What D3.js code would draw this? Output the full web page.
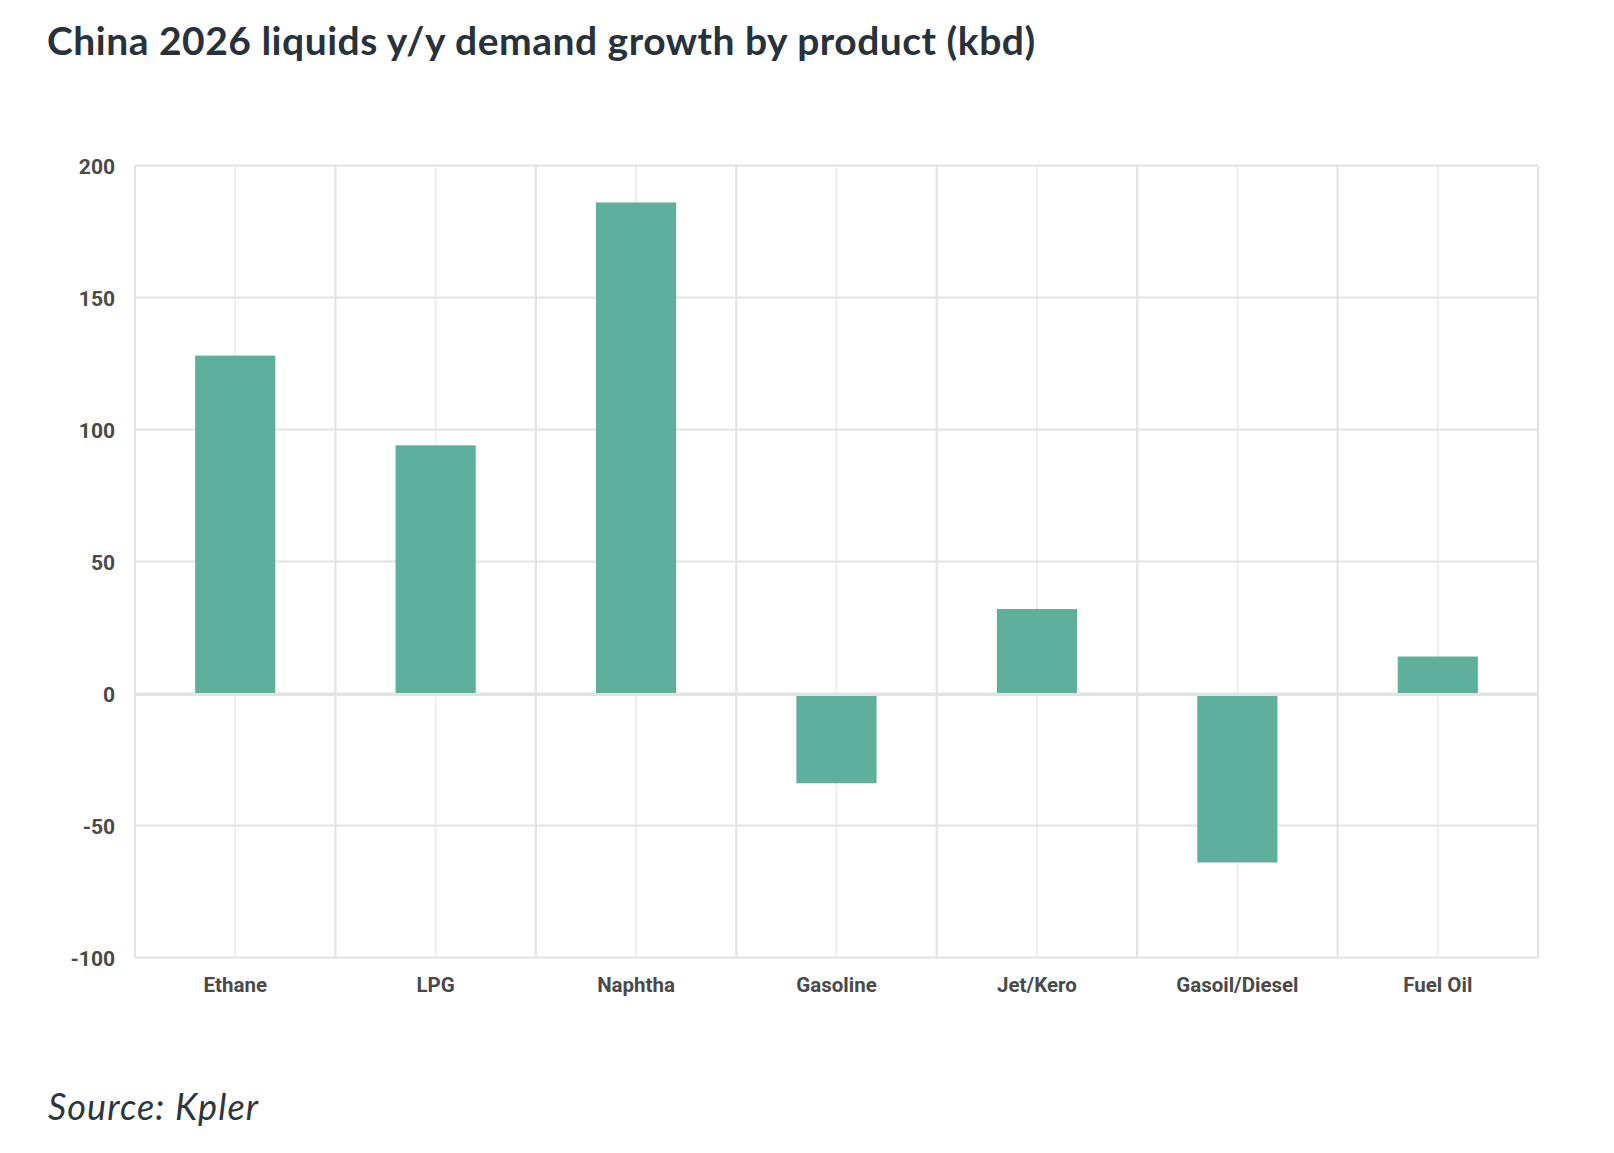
<!DOCTYPE html>
<html>
<head>
<meta charset="utf-8">
<script src="https://cdn.jsdelivr.net/npm/d3@7"></script>
<style>
  html, body { margin: 0; padding: 0; background: #ffffff; }
  svg { display: block; }
</style>
</head>
<body>
<script>
const categories = ["Ethane", "LPG", "Naphtha", "Gasoline", "Jet/Kero", "Gasoil/Diesel", "Fuel Oil"];
const demandGrowth = [128, 94, 186, -34, 32, -64, 14];
const yTicks = [-100, -50, 0, 50, 100, 150, 200];
const titleText = "China 2026 liquids y/y demand growth by product (kbd)";
const sourceText = "Source: Kpler";

const W = 1614, H = 1153;
const plot = { left: 135, right: 1538, top: 165.5, bottom: 957.5 };

const svg = d3.select("body").append("svg")
  .attr("width", W).attr("height", H);

const x = d3.scaleBand()
  .domain(categories)
  .range([plot.left, plot.right])
  .paddingInner(0.6)
  .paddingOuter(0.3);

const y = d3.scaleLinear()
  .domain([d3.min(yTicks), d3.max(yTicks)])
  .range([plot.bottom, plot.top]);

const gridColor = "#e3e3e3";
const gridLight = "#eeeeee";

// vertical grid: band centres (light)
svg.append("g").selectAll("line.c")
  .data(categories).join("line")
  .attr("x1", d => x(d) + x.bandwidth() / 2)
  .attr("x2", d => x(d) + x.bandwidth() / 2)
  .attr("y1", plot.top).attr("y2", plot.bottom)
  .attr("stroke", gridLight).attr("stroke-width", 2);

// vertical grid: band boundaries
const step = x.step();
const bounds = d3.range(categories.length + 1).map(i => plot.left + i * step);
svg.append("g").selectAll("line.b")
  .data(bounds).join("line")
  .attr("x1", d => d).attr("x2", d => d)
  .attr("y1", plot.top).attr("y2", plot.bottom)
  .attr("stroke", gridColor).attr("stroke-width", 2.2);

// horizontal grid
svg.append("g").selectAll("line.h")
  .data(yTicks).join("line")
  .attr("x1", plot.left).attr("x2", plot.right)
  .attr("y1", d => y(d)).attr("y2", d => y(d))
  .attr("stroke", gridColor).attr("stroke-width", 2.2);

// bars
svg.append("g").selectAll("rect")
  .data(categories.map((c, i) => ({ c, v: demandGrowth[i] })))
  .join("rect")
  .attr("x", d => x(d.c))
  .attr("width", x.bandwidth())
  .attr("y", d => y(Math.max(0, d.v)))
  .attr("height", d => Math.abs(y(d.v) - y(0)))
  .attr("fill", "#5eb09c");

// zero line on top
svg.append("line")
  .attr("x1", plot.left).attr("x2", plot.right)
  .attr("y1", y(0) + 1).attr("y2", y(0) + 1)
  .attr("stroke", gridColor).attr("stroke-width", 3);

// y axis labels
const yAxis = d3.axisLeft(y).tickValues(yTicks).tickFormat(d => String(d)).tickSize(0).tickPadding(0);
const gy = svg.append("g").attr("transform", `translate(${plot.left - 20},0)`).call(yAxis);
gy.select(".domain").remove();
gy.selectAll("text")
  .attr("font-family", "Roboto, sans-serif")
  .attr("font-weight", 700)
  .attr("font-size", 21)
  .attr("fill", "#4a4a4a")
  .attr("dy", "0.36em");

// x axis labels
const xAxis = d3.axisBottom(x).tickSize(0).tickPadding(0);
const gx = svg.append("g").attr("transform", `translate(0,${plot.bottom + 34})`).call(xAxis);
gx.select(".domain").remove();
gx.selectAll("text")
  .attr("font-family", "Roboto, sans-serif")
  .attr("font-weight", 700)
  .attr("font-size", 20.5)
  .attr("fill", "#4a4a4a")
  .attr("dy", 0);

function fitSpacing(sel, targetWidth) {
  const node = sel.node();
  const w = node.getComputedTextLength();
  const n = sel.text().length;
  sel.attr("letter-spacing", ((targetWidth - w) / (n - 1)).toFixed(2));
}

// title
const title = svg.append("text")
  .attr("x", 47).attr("y", 55)
  .attr("font-family", "Lato, sans-serif")
  .attr("font-weight", 700)
  .attr("font-size", 39)
  .attr("fill", "#28323c")
  .text(titleText);
fitSpacing(title, 988);

// source
const source = svg.append("text")
  .attr("x", 48).attr("y", 1120)
  .attr("font-family", "Lato, sans-serif")
  .attr("font-style", "italic")
  .attr("font-weight", 400)
  .attr("font-size", 36)
  .attr("fill", "#2b3640")
  .text(sourceText);
fitSpacing(source, 210);
</script>
</body>
</html>
